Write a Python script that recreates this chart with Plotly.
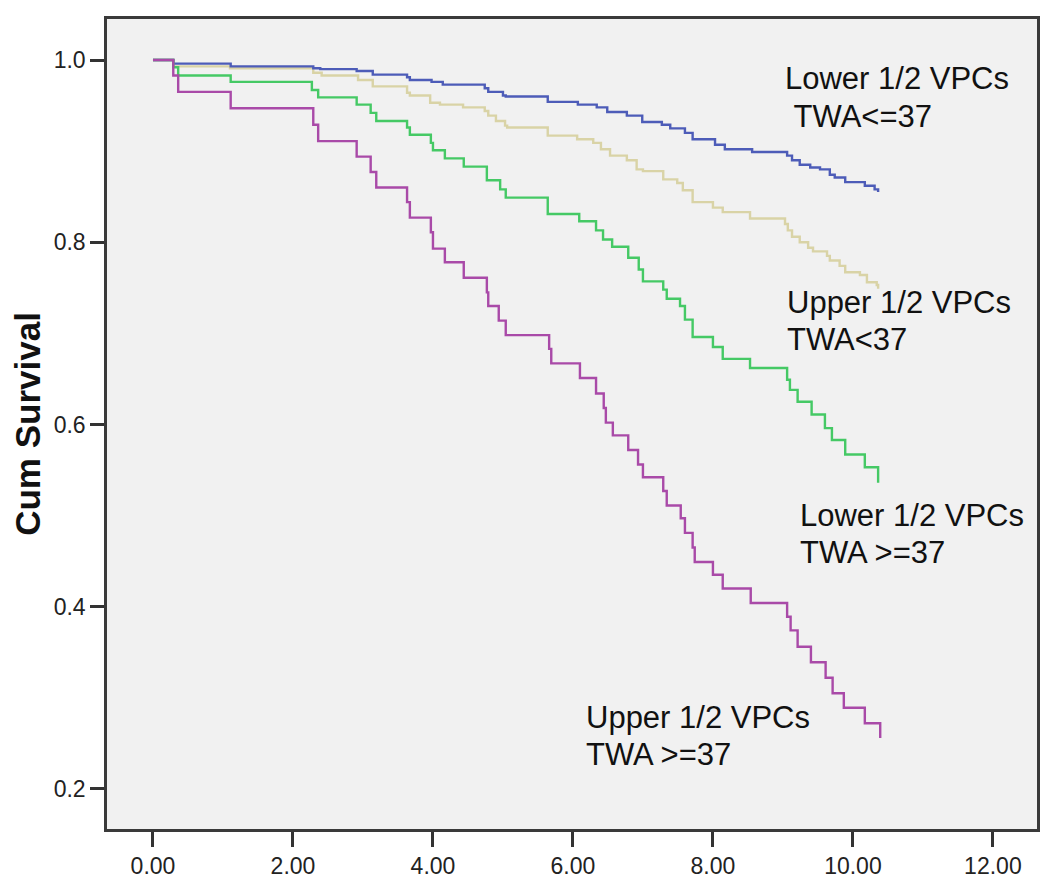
import plotly.graph_objects as go

# Kaplan-Meier step data (time, cumulative survival after the event)
purple_t = [0, 0.29, 0.36, 1.11, 2.29, 2.36, 2.91, 3.11, 3.19, 3.63, 3.67, 3.97, 4.0, 4.17, 4.44, 4.77, 4.79, 4.94, 5.04,
            5.66, 5.69, 6.1, 6.33, 6.44, 6.47, 6.57, 6.79, 6.93, 7.0, 7.29, 7.34, 7.54, 7.6, 7.71, 7.74, 8.0, 8.14, 8.54,
            9.06, 9.11, 9.21, 9.4, 9.61, 9.71, 9.87, 10.17, 10.39]
purple_s = [1.0, 0.983, 0.965, 0.947, 0.929, 0.911, 0.894, 0.877, 0.860, 0.844, 0.827, 0.811, 0.793, 0.778, 0.761, 0.745,
            0.730, 0.714, 0.698, 0.683, 0.667, 0.651, 0.634, 0.618, 0.602, 0.588, 0.572, 0.556, 0.542, 0.527, 0.511, 0.497,
            0.481, 0.465, 0.449, 0.435, 0.420, 0.404, 0.389, 0.374, 0.356, 0.339, 0.322, 0.305, 0.289, 0.272, 0.256]

green_t = [0, 0.29, 0.36, 1.11, 2.27, 2.36, 2.91, 3.11, 3.19, 3.63, 3.67, 3.97, 4.0, 4.17, 4.44, 4.77, 4.96, 5.04, 5.64,
           6.09, 6.33, 6.43, 6.56, 6.79, 6.94, 7.0, 7.29, 7.34, 7.53, 7.6, 7.71, 8.0, 8.14, 8.53, 9.06, 9.1, 9.21, 9.41,
           9.6, 9.7, 9.89, 10.17, 10.36]
green_s = [1.0, 0.992, 0.983, 0.976, 0.967, 0.959, 0.951, 0.942, 0.933, 0.926, 0.918, 0.909, 0.901, 0.892, 0.883, 0.868,
           0.858, 0.849, 0.831, 0.823, 0.813, 0.803, 0.795, 0.783, 0.770, 0.757, 0.748, 0.738, 0.730, 0.715, 0.696, 0.685,
           0.672, 0.662, 0.649, 0.638, 0.625, 0.611, 0.596, 0.583, 0.567, 0.553, 0.536]

blue_t = [0, 0.29, 1.11, 2.29, 2.39, 2.91, 3.14, 3.63, 3.67, 3.98, 4.14, 4.74, 4.79, 5.0, 5.04, 5.64, 6.07, 6.34, 6.49,
          6.77, 6.99, 7.27, 7.39, 7.6, 7.71, 8.03, 8.17, 8.56, 9.06, 9.13, 9.24, 9.39, 9.53, 9.67, 9.74, 9.89, 10.17,
          10.31, 10.36]
blue_s = [1.0, 0.996, 0.993, 0.991, 0.990, 0.988, 0.984, 0.981, 0.978, 0.976, 0.973, 0.969, 0.965, 0.961, 0.960, 0.954,
          0.951, 0.948, 0.943, 0.939, 0.932, 0.929, 0.925, 0.920, 0.913, 0.907, 0.902, 0.899, 0.895, 0.890, 0.885, 0.882,
          0.880, 0.874, 0.871, 0.866, 0.862, 0.858, 0.855]

tan_t = [0, 0.29, 1.10, 2.29, 2.41, 2.93, 3.14, 3.63, 3.67, 3.96, 4.1, 4.43, 4.74, 4.79, 4.9, 5.03, 5.06, 5.64, 6.06,
         6.29, 6.4, 6.53, 6.77, 6.91, 7.0, 7.29, 7.49, 7.57, 7.71, 8.0, 8.14, 8.53, 9.03, 9.07, 9.13, 9.24, 9.36, 9.43,
         9.63, 9.67, 9.81, 9.89, 10.1, 10.2, 10.34, 10.36]
tan_s = [1.0, 0.993, 0.991, 0.986, 0.983, 0.978, 0.971, 0.964, 0.961, 0.953, 0.951, 0.948, 0.944, 0.939, 0.933, 0.928,
         0.926, 0.917, 0.913, 0.909, 0.902, 0.895, 0.890, 0.880, 0.878, 0.869, 0.865, 0.857, 0.844, 0.838, 0.833, 0.826,
         0.820, 0.813, 0.806, 0.800, 0.794, 0.790, 0.785, 0.780, 0.774, 0.767, 0.764, 0.756, 0.753, 0.749]

x_ticks = [0, 2, 4, 6, 8, 10, 12]
x_tick_labels = ["0.00", "2.00", "4.00", "6.00", "8.00", "10.00", "12.00"]
y_ticks = [0.2, 0.4, 0.6, 0.8, 1.0]
y_tick_labels = ["0.2", "0.4", "0.6", "0.8", "1.0"]

series = [
    (tan_t, tan_s, "#d9d3a6", "Upper 1/2 VPCs TWA<37"),
    (blue_t, blue_s, "#4d5cb8", "Lower 1/2 VPCs TWA<=37"),
    (green_t, green_s, "#45c965", "Lower 1/2 VPCs TWA >=37"),
    (purple_t, purple_s, "#a94aa8", "Upper 1/2 VPCs TWA >=37"),
]

fig = go.Figure()
for t, s, col, name in series:
    fig.add_trace(go.Scatter(x=t, y=s, mode="lines", line=dict(color=col, width=2.4, shape="hv"),
                             name=name, showlegend=False))

labels = [
    ("Lower 1/2 VPCs", 9.0, 0.980),
    ("\u00a0TWA<=37", 9.0, 0.938),
    ("Upper 1/2 VPCs", 9.03, 0.734),
    ("TWA<37", 9.03, 0.693),
    ("Lower 1/2 VPCs", 9.22, 0.500),
    ("TWA >=37", 9.22, 0.460),
    ("Upper 1/2 VPCs", 6.16, 0.278),
    ("TWA >=37", 6.16, 0.238),
]
for txt, x, y in labels:
    fig.add_annotation(x=x, y=y, xref="x", yref="y", text=txt, showarrow=False,
                       xanchor="left", yanchor="middle",
                       font=dict(family="Liberation Sans, Arial, sans-serif", size=31, color="#111111"))

fig.update_layout(
    width=1042, height=882,
    margin=dict(l=99, r=13, t=8, b=61),
    paper_bgcolor="white",
    plot_bgcolor="#f1f1f1",
    font=dict(family="Liberation Sans, Arial, sans-serif", color="#222222"),
    xaxis=dict(range=[-0.657, 12.63], tickvals=x_ticks, ticktext=x_tick_labels,
               showgrid=False, zeroline=False, showline=True, linecolor="#3a3a3a", linewidth=2.5, mirror=True,
               ticks="outside", ticklen=15, tickwidth=2.5, tickcolor="#333333",
               tickfont=dict(size=23, color="#222222")),
    yaxis=dict(range=[0.156, 1.045], tickvals=y_ticks, ticktext=y_tick_labels,
               showgrid=False, zeroline=False, showline=True, linecolor="#3a3a3a", linewidth=2.5, mirror=True,
               ticks="outside", ticklen=14, tickwidth=2.5, tickcolor="#333333",
               tickfont=dict(size=23, color="#222222"),
               title=dict(text="<b>Cum Survival</b>", standoff=5,
                          font=dict(size=35, color="#111111"))),
)

fig.write_html("out.html")
